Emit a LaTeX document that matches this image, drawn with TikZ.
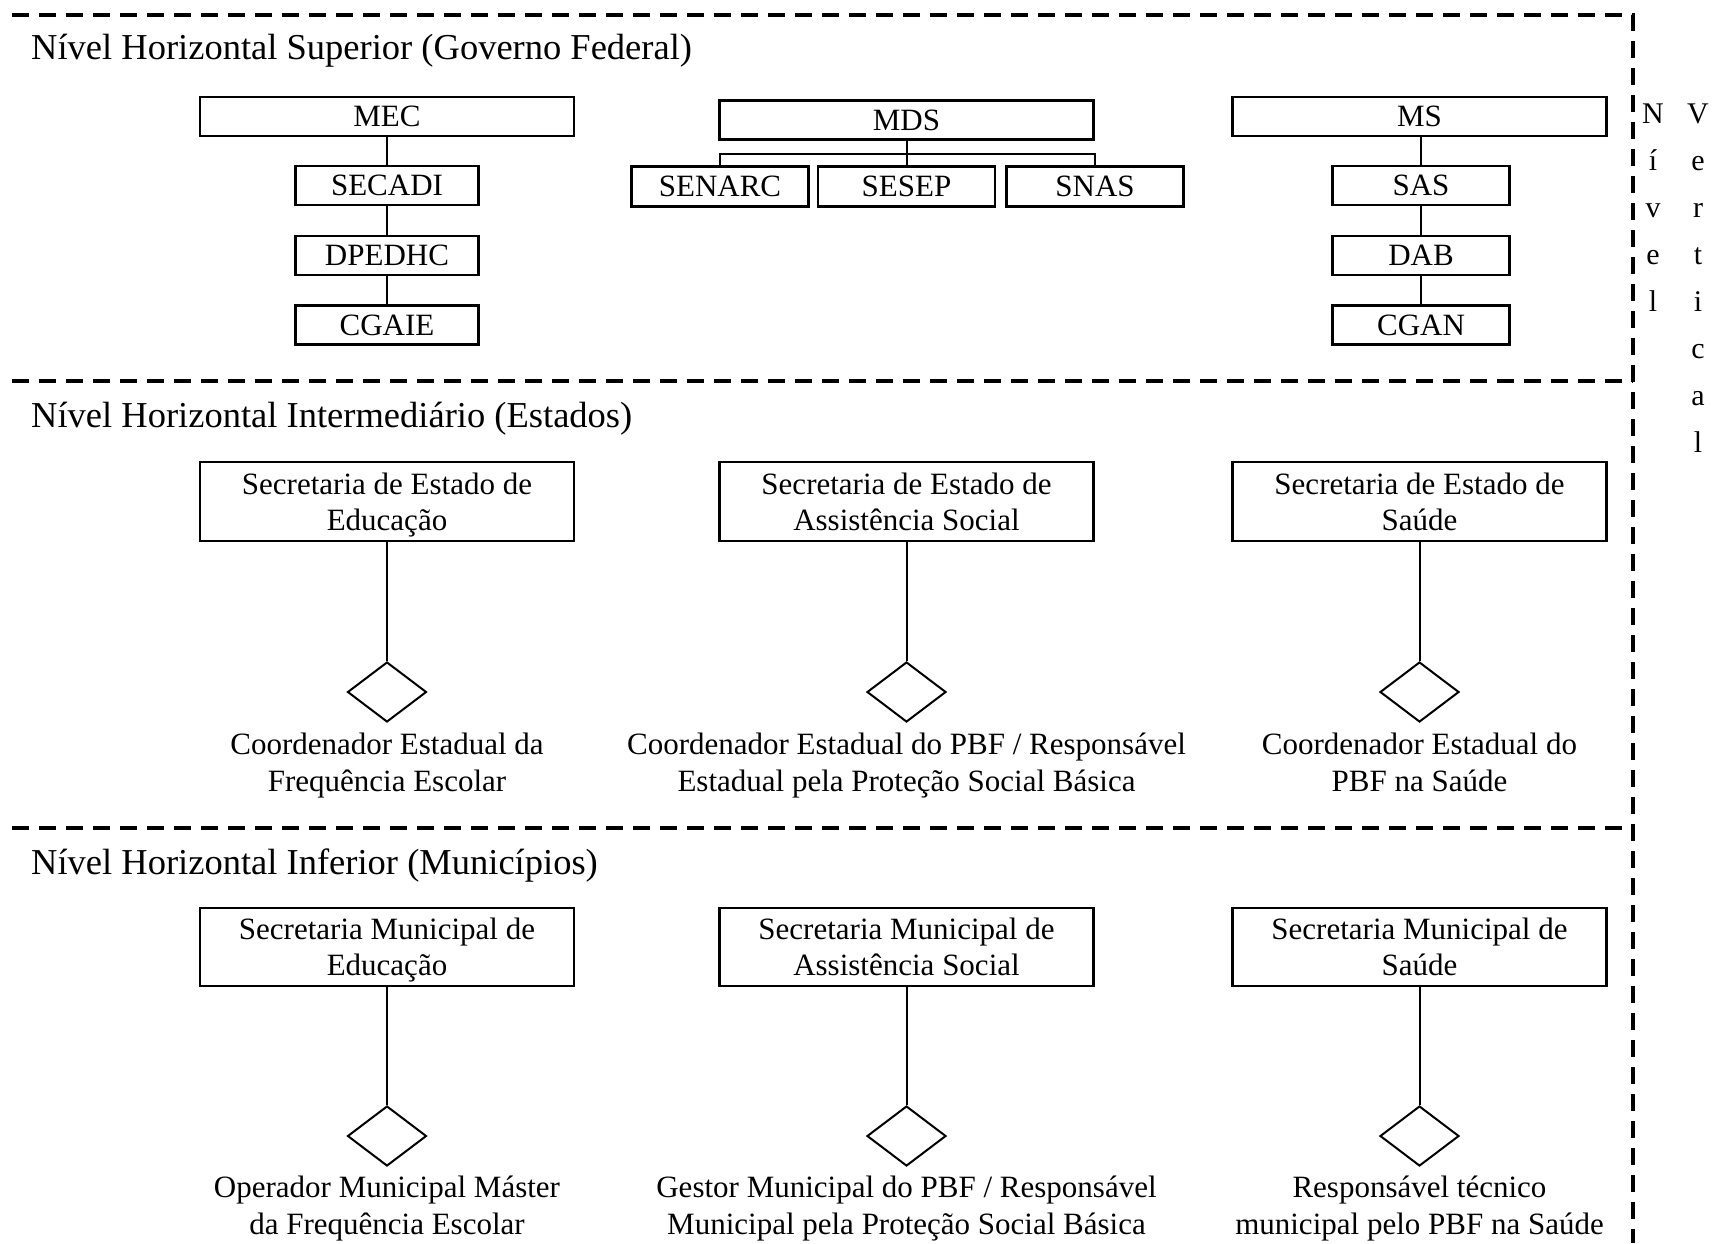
\documentclass[tikz,border=0pt]{standalone}
\usepackage{fontspec}
\setmainfont{Liberation Serif}
\usetikzlibrary{shapes.geometric,positioning}
\newcommand{\twolines}[2]{\rule{0pt}{21.5pt}#1\\\smash{#2}}
\begin{document}
\begin{tikzpicture}[x=1pt,y=-1pt,
  box/.style={draw,line width=2.4pt,inner sep=0pt,minimum height=39pt,
    font=\fontsize{31}{36}\selectfont,align=center},
  wide/.style={box,minimum width=374pt},
  small/.style={box,minimum width=178pt},
  tall/.style={box,minimum width=374pt,minimum height=79pt},
  conn/.style={draw,line width=2pt},
  dia/.style={draw,diamond,line width=2pt,inner sep=0pt,minimum width=79pt,minimum height=60pt},
  lab/.style={inner sep=0pt,align=center,font=\fontsize{31}{37}\selectfont},
  title/.style={inner sep=0pt,anchor=base west,font=\fontsize{36.5}{40}\selectfont},
  vert/.style={inner sep=0pt,anchor=north,align=center,font=\fontsize{30}{47}\selectfont},
  frame/.style={line width=3.5pt,dash pattern=on 17pt off 10pt}
]
\useasboundingbox (0,0) rectangle (1720,1243);
\fill[white] (0,0) rectangle (1720,1243);

% frame lines
\draw[frame] (12,15) -- (1633,15) -- (1633,1243);
\draw[frame] (12,381) -- (1633,381);
\draw[frame] (12,828) -- (1633,828);

% titles
\node[title] (t1) at (31,59) {Nível Horizontal Superior (Governo Federal)};
\node[title] (t2) at (31,427) {Nível Horizontal Intermediário (Estados)};
\node[title] (t3) at (31,874) {Nível Horizontal Inferior (Municípios)};

% vertical label
\node[vert] (nivel) at (1653,104) {N\\í\\v\\e\\l};
\node[vert] (vertical) at (1698,104) {V\\e\\r\\t\\i\\c\\a\\l};

% federal: MEC
\node[wide] (mec) at (387,116.5) {MEC};
\node[small,minimum width=183pt] (secadi) at (387,185.5) {SECADI};
\node[small,minimum width=183pt] (dpedhc) at (387,255.5) {DPEDHC};
\node[small,minimum width=183pt] (cgaie) at (387,325) {CGAIE};
\draw[conn] (mec) -- (secadi);
\draw[conn] (secadi) -- (dpedhc);
\draw[conn] (dpedhc) -- (cgaie);

% federal: MDS
\node[wide] (mds) at (906.5,120) {MDS};
\node[small,minimum width=177pt,minimum height=40pt] (senarc) at (720,186.5) {SENARC};
\node[small,minimum width=177pt,minimum height=40pt] (sesep) at (906.5,186.5) {SESEP};
\node[small,minimum width=177pt,minimum height=40pt] (snas) at (1095,186.5) {SNAS};
\coordinate (mdsbar) at (906.5,154);
\draw[conn] (mds) -- (sesep);
\draw[conn] (senarc.north) -- (senarc.north |- mdsbar) -- (snas.north |- mdsbar) -- (snas.north);

% federal: MS
\node[wide] (ms) at (1419.5,116.5) {MS};
\node[small,minimum width=177pt] (sas) at (1421,185.5) {SAS};
\node[small,minimum width=177pt] (dab) at (1421,255.5) {DAB};
\node[small,minimum width=177pt] (cgan) at (1421,325) {CGAN};
\draw[conn] (ms.south -| sas) -- (sas);
\draw[conn] (sas) -- (dab);
\draw[conn] (dab) -- (cgan);

% states
\node[tall] (se1) at (387,501.5) {\twolines{Secretaria de Estado de}{Educação}};
\node[tall] (se2) at (906.5,501.5) {\twolines{Secretaria de Estado de}{Assistência Social}};
\node[tall] (se3) at (1419.5,501.5) {\twolines{Secretaria de Estado de}{Saúde}};
\node[dia] (sd1) at (387,692) {};
\node[dia] (sd2) at (906.5,692) {};
\node[dia] (sd3) at (1419.5,692) {};
\draw[conn] (se1) -- (sd1);
\draw[conn] (se2) -- (sd2);
\draw[conn] (se3) -- (sd3);
\node[lab,below=10pt of sd1] (sl1) {Coordenador Estadual da\\Frequência Escolar};
\node[lab,below=10pt of sd2] (sl2) {Coordenador Estadual do PBF / Responsável\\Estadual pela Proteção Social Básica};
\node[lab,below=10pt of sd3] (sl3) {Coordenador Estadual do\\PBF na Saúde};

% municipalities
\node[tall,minimum height=78pt] (sm1) at (387,947) {\twolines{Secretaria Municipal de}{Educação}};
\node[tall,minimum height=78pt] (sm2) at (906.5,947) {\twolines{Secretaria Municipal de}{Assistência Social}};
\node[tall,minimum height=78pt] (sm3) at (1419.5,947) {\twolines{Secretaria Municipal de}{Saúde}};
\node[dia] (md1) at (387,1136) {};
\node[dia] (md2) at (906.5,1136) {};
\node[dia] (md3) at (1419.5,1136) {};
\draw[conn] (sm1) -- (md1);
\draw[conn] (sm2) -- (md2);
\draw[conn] (sm3) -- (md3);
\node[lab,below=9pt of md1] (ml1) {Operador Municipal Máster\\da Frequência Escolar};
\node[lab,below=9pt of md2] (ml2) {Gestor Municipal do PBF / Responsável\\Municipal pela Proteção Social Básica};
\node[lab,below=9pt of md3] (ml3) {Responsável técnico\\municipal pelo PBF na Saúde};
\end{tikzpicture}
\end{document}
